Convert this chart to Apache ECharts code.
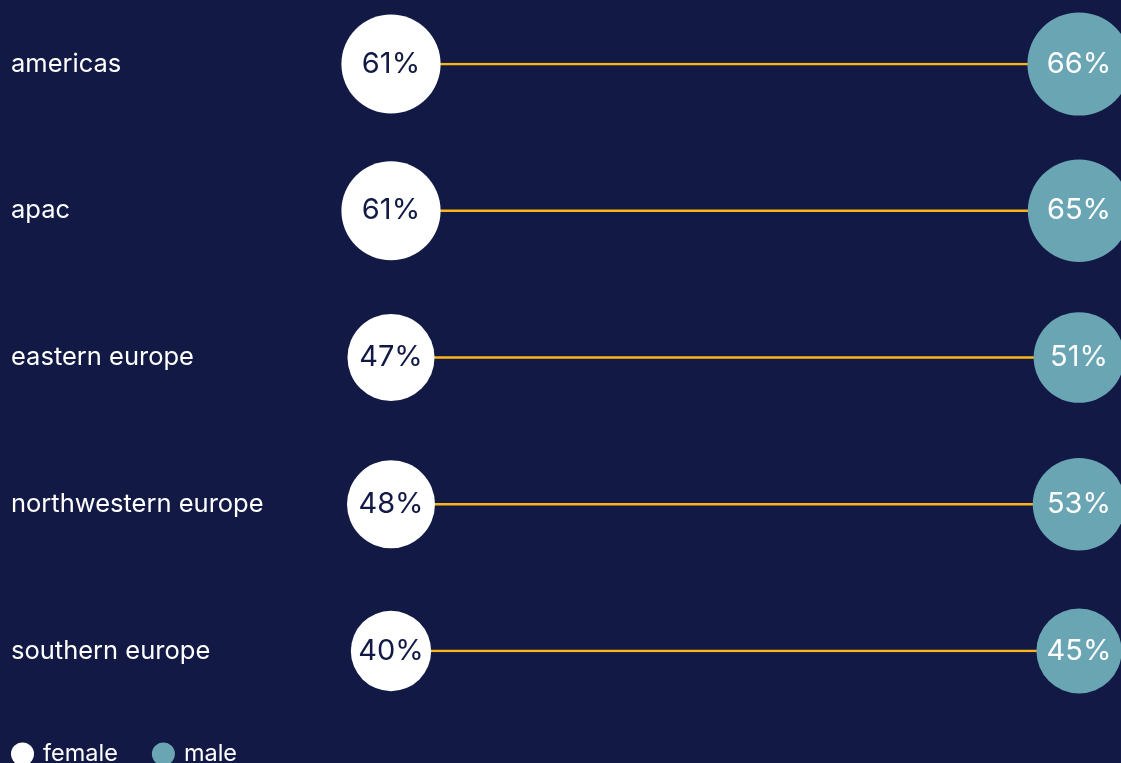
<!DOCTYPE html>
<html><head><meta charset="utf-8">
<script src="https://cdn.jsdelivr.net/npm/echarts@6/dist/echarts.min.js"></script>
<style>html,body{margin:0;padding:0;background:#111944;}#c{width:1121px;height:763px;}</style>
</head><body><div id="c"></div>
<script>
const categories = ['americas','apac','eastern europe','northwestern europe','southern europe'];
const female = [61, 61, 47, 48, 40];
const male = [66, 65, 51, 53, 45];

const BG = '#111944', FEMALE = '#ffffff', MALE = '#6aa5b4', LINE = '#fbb616';
const FONT = 'Inter';
const size = v => Math.sqrt(v) * 12.7;

const chart = echarts.init(document.getElementById('c'), null, {renderer:'canvas'});
const lineSeries = categories.map(c => ({
  type:'line', data:[[0,c],[1,c]], symbol:'none', silent:true,
  lineStyle:{color:LINE, width:2.5}, z:1, legendHoverLink:false
}));
chart.setOption({
  backgroundColor: BG,
  animation:false,
  textStyle:{fontFamily:FONT},
  grid:{left:391, right:42, top:64, bottom:112},
  xAxis:{type:'value', min:0, max:1, show:false},
  yAxis:{type:'category', data:categories, inverse:true, boundaryGap:false,
    axisLine:{show:false}, axisTick:{show:false}, splitLine:{show:false},
    axisLabel:{align:'left', margin:380, color:'#ffffff', fontSize:25.5, fontFamily:FONT}},
  legend:{data:['female','male'], left:6, bottom:-8, icon:'circle', itemWidth:23, itemHeight:23, itemGap:34,
    textStyle:{color:'#ffffff', fontSize:23.5, fontFamily:FONT, padding:[0,0,0,4]}},
  series:[
    ...lineSeries,
    {name:'female', type:'scatter', z:3, data:categories.map((c,i)=>[0,c,female[i]]),
      symbolSize:d=>size(d[2]), itemStyle:{color:FEMALE, opacity:1},
      label:{show:true, position:'inside', formatter:p=>p.value[2]+'%', color:BG, fontSize:29, fontFamily:FONT}},
    {name:'male', type:'scatter', z:3, data:categories.map((c,i)=>[1,c,male[i]]),
      symbolSize:d=>size(d[2]), itemStyle:{color:MALE, opacity:1},
      label:{show:true, position:'inside', formatter:p=>p.value[2]+'%', color:'#ffffff', fontSize:29, fontFamily:FONT}}
  ]
});
</script></body></html>
